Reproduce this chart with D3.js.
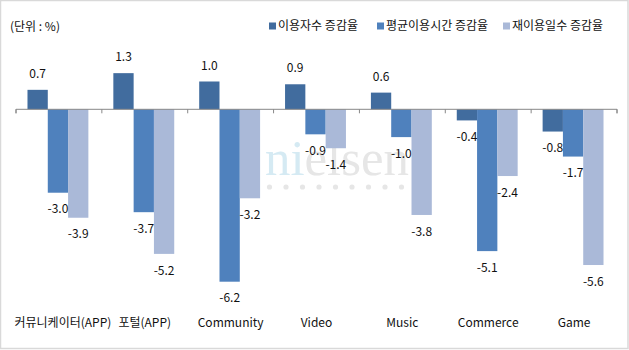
<!DOCTYPE html>
<html><head><meta charset="utf-8">
<script src="https://cdn.jsdelivr.net/npm/d3@7"></script>
<style>
html,body{margin:0;padding:0;background:#fff;}
svg text{font-family:"Noto Sans CJK KR","Noto Sans",sans-serif;}
</style></head>
<body>
<svg id="chart" width="629" height="350"></svg>
<script>
const categories = ["커뮤니케이터(APP)", "포털(APP)", "Community", "Video", "Music", "Commerce", "Game"];
const seriesNames = ["이용자수 증감율", "평균이용시간 증감율", "재이용일수 증감율"];
const users = [0.7, 1.3, 1.0, 0.9, 0.6, -0.4, -0.8];
const avgTime = [-3.0, -3.7, -6.2, -0.9, -1.0, -5.1, -1.7];
const revisit = [-3.9, -5.2, -3.2, -1.4, -3.8, -2.4, -5.6];
const colors = ["#416C9E", "#4F81BD", "#AAB9D8"];

const seriesValues = [users, avgTime, revisit];
const svg = d3.select("#chart");

// border
svg.append("rect").attr("x",0.5).attr("y",0.5).attr("width",627.5).attr("height",348)
  .attr("fill","none").attr("stroke","#D9D9D9").attr("stroke-width",1.5);

// watermark
const wm = svg.append("text").attr("x",265).attr("y",175)
  .style("font-family","'Liberation Serif','DejaVu Serif',serif").style("font-size","50px")
  .attr("textLength",144).attr("lengthAdjust","spacingAndGlyphs");
wm.append("tspan").attr("fill","#D5EAF3").text("ni");
wm.append("tspan").attr("fill","#E6E6E6").text("elsen");
svg.append("g").selectAll("circle").data(d3.range(9)).join("circle")
  .attr("cx",d=>269.5+d*16.5).attr("cy",187).attr("r",2.6).attr("fill","#E6E6E6");

const x0 = d3.scaleBand().domain(categories).range([16,617]).paddingInner(0).paddingOuter(0);
const x1 = d3.scaleBand().domain(d3.range(3)).range([0, x0.bandwidth()]).paddingInner(0).paddingOuter(0.615);
const y = d3.scaleLinear().domain([0, -6.2]).range([109.3, 281.7]);

const data = [];
categories.forEach((c,i)=>seriesValues.forEach((s,j)=>data.push({c, j, v:s[i]})));

svg.append("g").selectAll("rect").data(data).join("rect")
  .attr("x", d=>x0(d.c)+x1(d.j) - 1)
  .attr("width", x1.bandwidth())
  .attr("y", d=>Math.min(y(0), y(d.v)))
  .attr("height", d=>Math.abs(y(d.v)-y(0)))
  .attr("fill", d=>colors[d.j]);

// axis
const axis = d3.axisBottom(x0).tickSize(4).tickSizeOuter(4).tickFormat("");
const ag = svg.append("g").attr("transform",`translate(0,${y(0)})`).call(axis);
ag.select(".domain").attr("stroke","#888").attr("d", `M16,4V0H617V4`);
ag.selectAll(".tick").remove();
const tickPos = d3.range(8).map(i=>16 + i*x0.step());
ag.selectAll("line.t").data(tickPos).join("line").attr("class","t")
  .attr("x1",d=>d).attr("x2",d=>d).attr("y1",0).attr("y2",4).attr("stroke","#888");

// data labels
svg.append("g").selectAll("text").data(data).join("text")
  .attr("x", d=>x0(d.c)+x1(d.j) - 1 + x1.bandwidth()/2)
  .attr("y", d=> d.v>=0 ? y(d.v)-16 : y(d.v)+16.5)
  .attr("dy","0.35em")
  .attr("text-anchor","middle")
  .attr("font-size","12px").attr("fill","#111")
  .text(d=>d.v.toFixed(1));

// category labels
svg.append("g").selectAll("text").data(categories).join("text")
  .attr("x", d=>x0(d)+x0.bandwidth()/2 + (d===categories[0]?4:0))
  .attr("y", 323).attr("dy","0.35em")
  .attr("text-anchor","middle").attr("font-size","12px").attr("fill","#111")
  .text(d=>d);

// unit label
svg.append("text").attr("x",10).attr("y",27).attr("dy","0.35em")
  .attr("font-size","12px").attr("fill","#111").text("(단위 : %)");

// legend
const legX = [269, 377, 503];
const lg = svg.append("g").selectAll("g").data(seriesNames).join("g")
  .attr("transform",(d,i)=>`translate(${legX[i]},26)`);
lg.append("rect").attr("x",0).attr("y",-3.5).attr("width",7).attr("height",7).attr("fill",(d,i)=>colors[i]);
lg.append("text").attr("x",9).attr("y",0).attr("dy","0.35em").attr("font-size","12px").attr("fill","#111").text(d=>d);
</script>
</body></html>
